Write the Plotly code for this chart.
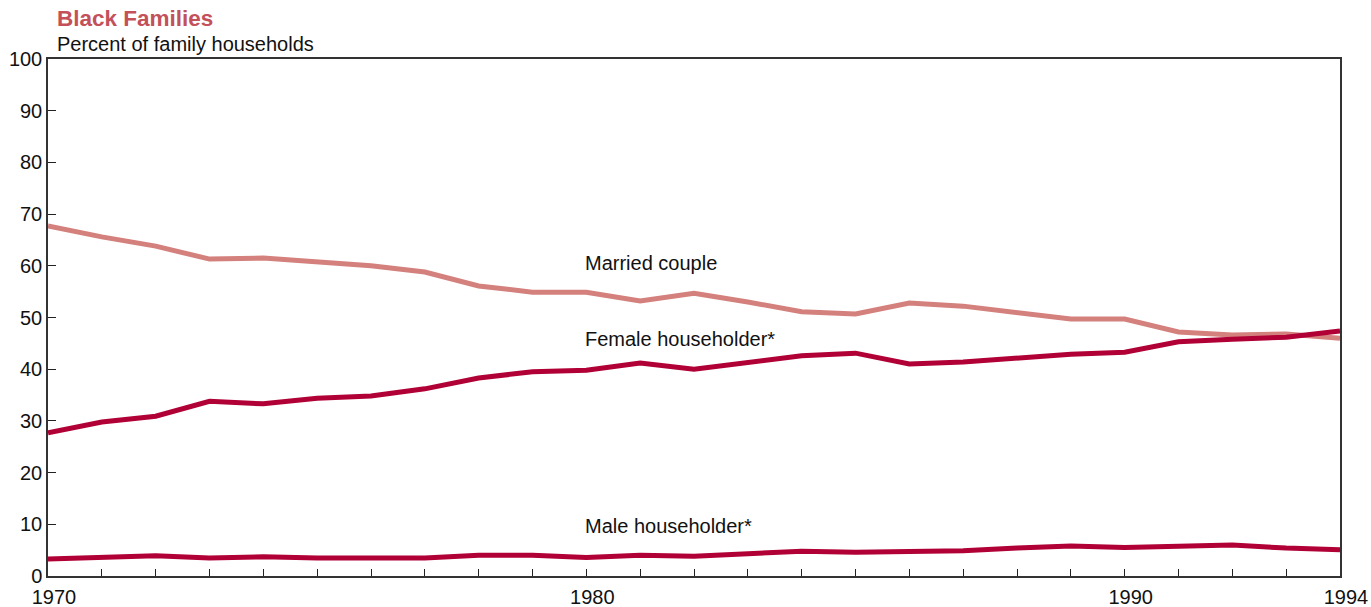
import plotly.graph_objects as go

years = list(range(1970, 1995))
married = [67.7, 65.6, 63.8, 61.3, 61.5, 60.7, 60.0, 58.8, 56.1, 54.9, 54.9, 53.2, 54.7,
           53.0, 51.1, 50.7, 52.8, 52.2, 50.9, 49.7, 49.7, 47.2, 46.6, 46.8, 46.0]
female = [27.7, 29.8, 30.9, 33.8, 33.3, 34.4, 34.8, 36.2, 38.3, 39.5, 39.8, 41.2, 40.0,
          41.4, 42.6, 43.1, 41.0, 41.4, 42.2, 42.9, 43.3, 45.3, 45.8, 46.2, 47.4]
male = [3.3, 3.5, 3.9, 3.5, 3.7, 3.5, 3.6, 3.5, 4.0, 4.0, 3.6, 4.0, 3.8,
        4.2, 4.8, 4.6, 4.8, 4.9, 5.4, 5.8, 5.5, 5.8, 6.0, 5.4, 5.1]

x_tick_vals = [1970, 1980, 1990, 1994]
x_tick_text = ["1970", "1980", "1990", "1994"]
y_tick_vals = list(range(0, 101, 10))

labels = ["Married couple", "Female householder*", "Male householder*"]
label_x = [1980, 1980, 1980]
label_y = [60.5, 45.8, 9.7]

title_text = "Black Families"
subtitle_text = "Percent of family households"

c_married = "#D4807D"
c_dark = "#B00036"
font = "Liberation Sans, Arial, sans-serif"

fig = go.Figure()
fig.add_trace(go.Scatter(x=years, y=married, mode="lines",
                         line=dict(color=c_married, width=5), showlegend=False))
fig.add_trace(go.Scatter(x=years, y=female, mode="lines",
                         line=dict(color=c_dark, width=5), showlegend=False))
fig.add_trace(go.Scatter(x=years, y=male, mode="lines",
                         line=dict(color=c_dark, width=5), showlegend=False))

for t, lx, ly in zip(labels, label_x, label_y):
    fig.add_annotation(x=lx, y=ly, text=t, showarrow=False, xanchor="left",
                       yanchor="middle", xshift=-3,
                       font=dict(size=20, color="#111", family=font))

fig.add_annotation(xref="paper", yref="paper", x=7/1292, y=1 + (59 - 18) / 517,
                   text="<b>" + title_text + "</b>", showarrow=False, xanchor="left",
                   yanchor="middle", font=dict(size=22.5, color="#C4505A", family=font))
fig.add_annotation(xref="paper", yref="paper", x=7/1292, y=1 + (59 - 44) / 517,
                   text=subtitle_text, showarrow=False, xanchor="left",
                   yanchor="middle", font=dict(size=20, color="#111", family=font))

fig.update_layout(
    width=1371, height=607,
    margin=dict(l=48, r=31, t=59, b=31),
    paper_bgcolor="white", plot_bgcolor="white",
    font=dict(family=font, color="#111"),
)
fig.update_xaxes(
    range=[1970, 1994], tickvals=x_tick_vals, ticktext=x_tick_text,
    ticks="inside", ticklen=7, tickcolor="#222", tickwidth=1.3,
    minor=dict(dtick=1, tick0=1970, ticks="inside", ticklen=7, tickcolor="#222", tickwidth=1.3),
    showgrid=False, zeroline=False, showline=True, linecolor="#333", linewidth=1.5,
    mirror=True, automargin=False, ticklabelshift=6, ticklabelstandoff=2,
    tickfont=dict(size=20, family=font, color="#111"),
)
fig.update_yaxes(
    range=[0, 100], tickvals=y_tick_vals, ticks="inside", ticklen=8,
    tickcolor="#222", tickwidth=1.3, showgrid=False, zeroline=False,
    showline=True, linecolor="#333", linewidth=1.5, mirror=True, automargin=False,
    tickfont=dict(size=20, family=font, color="#111"),
)

fig.write_html("out.html", config={"displayModeBar": False},
               post_script="document.body.style.margin='0';document.body.style.overflow='hidden';")
